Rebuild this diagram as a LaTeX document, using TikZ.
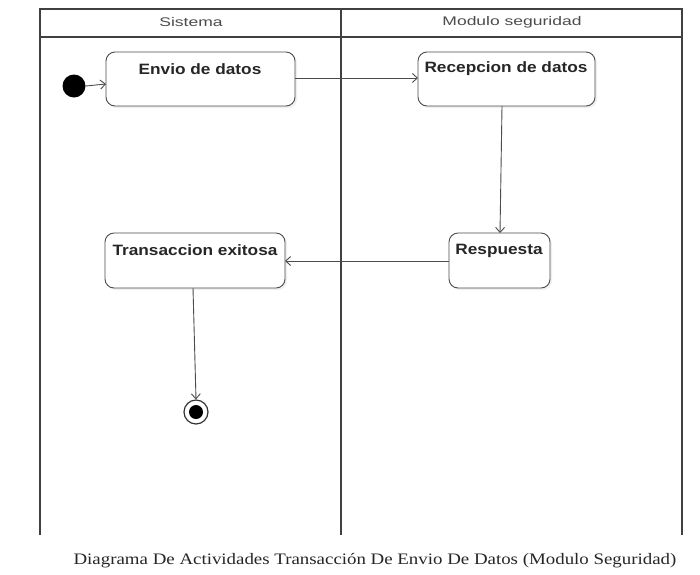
\documentclass[tikz,border=0pt]{standalone}
\usepackage{fontspec}
\setmainfont{Liberation Serif}
\newfontfamily\capfont[FakeStretch=1.18]{Liberation Serif}
\newfontfamily\boxfont[FakeStretch=1.15]{Liberation Sans}
\newfontfamily\lanefont[FakeStretch=1.4]{Liberation Sans}
\usetikzlibrary{arrows.meta,shadows}
\begin{document}
\begin{tikzpicture}[x=1pt,y=-1pt,
  frame/.style={draw=black!75,line width=1.8pt},
  act/.style={draw=black!70,line width=0.9pt,rounded corners=9pt,fill=white,
    drop shadow={shadow xshift=2pt,shadow yshift=-2pt,opacity=0.12}},
  acttext/.style={font=\boxfont\bfseries\fontsize{15}{17}\selectfont,text=black!85},
  flow/.style={draw=black!70,line width=0.9pt,-{Straight Barb[length=5pt,width=9pt]}},
  lane/.style={font=\lanefont\fontsize{12.5}{14}\selectfont,text=black!70}]
\useasboundingbox (0,0) rectangle (700,574);
\fill[white] (0,0) rectangle (700,574);
% swimlanes
\draw[frame] (40,535) -- (40,9) -- (682,9) -- (682,535);
\draw[frame] (40,37) -- (682,37);
\draw[frame] (341,9) -- (341,535);
\node[lane] (l1) at (191,22) {Sistema};
\node[lane] (l2) at (512,22) {Modulo seguridad};
% activities
\path[act] (106,52) rectangle (295,106);
\node[acttext] (t1) at (200,69) {Envio de datos};
\path[act] (418,52) rectangle (595,106);
\node[acttext] (t2) at (506,69) {Recepcion de datos};
\path[act] (449,233) rectangle (550,288);
\node[acttext] (t3) at (499,251) {Respuesta};
\path[act] (105,233) rectangle (285,288);
\node[acttext] (t4) at (195,250) {Transaccion exitosa};
% named anchors
\coordinate (envioL) at (106,84);
\coordinate (envioR) at (295,78);
\coordinate (recL) at (418,78);
\coordinate (recB) at (502,106);
\coordinate (resT) at (500,233);
\coordinate (resL) at (449,261);
\coordinate (traR) at (285,261);
\coordinate (traB) at (193,288);
% initial node
\node[circle,fill=black,minimum size=23pt,inner sep=0pt] (init) at (74,86) {};
% final node
\node[circle,draw=black!80,line width=1.2pt,fill=white,minimum size=24pt,inner sep=0pt] (fin) at (196,412) {};
\node[circle,fill=black,minimum size=14pt,inner sep=0pt] (finin) at (196,412) {};
% flows
\draw[flow] (init.east) -- (envioL);
\draw[flow] (envioR) -- (recL);
\draw[flow] (recB) -- (resT);
\draw[flow] (resL) -- (traR);
\draw[flow] (traB) -- (fin.north);
% caption
\node[font=\capfont\fontsize{16}{18}\selectfont,text=black!85] (cap) at (375,561) {Diagrama De Actividades Transacción De Envio De Datos (Modulo Seguridad)};
\end{tikzpicture}
\end{document}
